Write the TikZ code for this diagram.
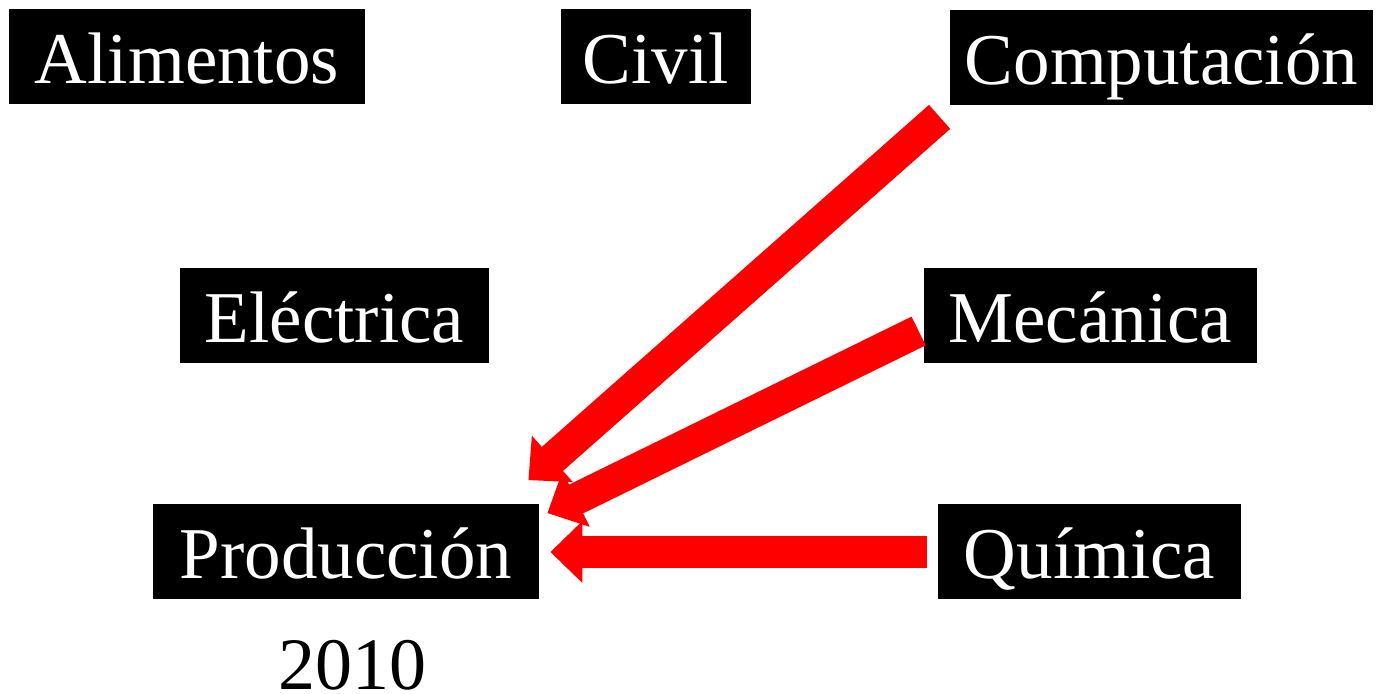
\documentclass[tikz,border=0pt]{standalone}
\usepackage{fontspec}
\setmainfont{Liberation Serif}
\usetikzlibrary{arrows.meta}

\begin{document}
\begin{tikzpicture}[x=0.5pt,y=-0.5pt,
  carrera/.style={fill=black,text=white,inner sep=0pt,minimum height=47.5pt,
    text height=26.5pt,text depth=0pt,font=\fontsize{36.5}{40}\selectfont},
  flecha/.style={draw=red,line width=16pt,-{Triangle[length=16pt,width=30pt]}}]
 \useasboundingbox (0,0) rectangle (1383,694);
 \node[carrera,minimum width=178pt] (alim) at (187,57) {Alimentos};
 \node[carrera,minimum width=95pt] (civil) at (656,57) {Civil};
 \node[carrera,minimum width=211.5pt] (comp) at (1161.5,58) {Computación};
 \node[carrera,minimum width=154.5pt] (elec) at (334.5,316) {Eléctrica};
 \node[carrera,minimum width=166.5pt] (meca) at (1090.5,316) {Mecánica};
 \node[carrera,minimum width=193pt] (prod) at (346,552) {Producción};
 \node[carrera,minimum width=151.5pt] (quim) at (1089.5,552) {Química};
 \node[anchor=base,inner sep=0pt,font=\fontsize{37}{40}\selectfont] (anio) at (352,690) {2010};
 % flechas hacia Produccion
 \draw[flecha] ([shift={(-10,11)}]comp.south west) -- ([shift={(-11,-24)}]prod.north east);
 \draw[flecha] ([shift={(-5,15)}]meca.west) -- ([shift={(8,9)}]prod.north east);
 \draw[flecha] ([shift={(-11,0)}]quim.west) -- ([shift={(11,0)}]prod.east);
\end{tikzpicture}
\end{document}
